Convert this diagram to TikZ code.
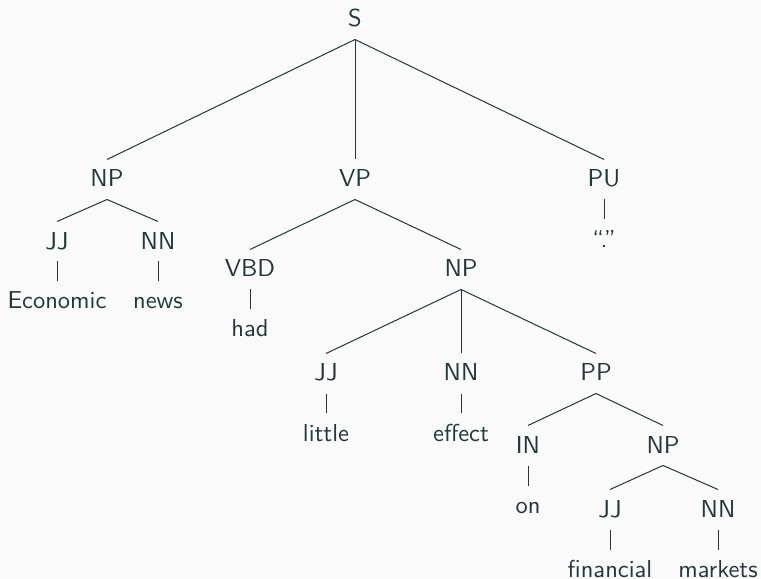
\documentclass[tikz,border=0pt]{standalone}
\usepackage{fontspec}
\definecolor{tealdark}{HTML}{23373B}
\definecolor{bgpaper}{HTML}{FAFAFA}

\begin{document}
\begin{tikzpicture}[x=0.4pt, y=-0.4pt, font=\sffamily\fontsize{9.8}{12}\selectfont]
    \tikzstyle{cat} = [anchor=base, text height=7.8pt, text depth=1.8pt, inner sep=3pt, text=tealdark]
    \tikzstyle{edge} = [draw=tealdark, line width=0.4pt]

    \fill[bgpaper] (0,0) rectangle (761,579);
    \useasboundingbox (0,0) rectangle (761,579);

    % categories
    \node (s) [cat] at (355,27) {S};
    \node (np) [cat] at (107,187) {NP};
    \node (vp) [cat] at (355,187) {VP};
    \node (pu) [cat] at (604,187) {PU};
    \node (jj) [cat] at (57,249) {JJ};
    \node (nn) [cat] at (158,249) {NN};
    \node (vbd) [cat] at (250,277) {VBD};
    \node (npb) [cat] at (461,277) {NP};
    \node (jjb) [cat] at (326,381) {JJ};
    \node (nnb) [cat] at (461,381) {NN};
    \node (pp) [cat] at (596,381) {PP};
    \node (prep) [cat] at (528,453) {IN};
    \node (npc) [cat] at (663,453) {NP};
    \node (jjc) [cat] at (610,517) {JJ};
    \node (nnc) [cat] at (718,517) {NN};

    % words
    \node (economic) [cat] at (57,309) {Economic};
    \node (news) [cat] at (158,309) {news};
    \node (stop) [cat] at (604,247) {“.”};
    \node (had) [cat] at (250,337) {had};
    \node (little) [cat] at (326,441) {little};
    \node (effect) [cat] at (461,441) {effect};
    \node (on) [cat] at (528,513) {on};
    \node (financial) [cat] at (610,577) {financial};
    \node (markets) [cat] at (718,577) {markets};

    \draw [edge] (s.south) -- (np.north);
    \draw [edge] (s.south) -- (vp.north);
    \draw [edge] (s.south) -- (pu.north);
    \draw [edge] (np.south) -- (jj.north);
    \draw [edge] (np.south) -- (nn.north);
    \draw [edge] (vp.south) -- (vbd.north);
    \draw [edge] (vp.south) -- (npb.north);
    \draw [edge] (npb.south) -- (jjb.north);
    \draw [edge] (npb.south) -- (nnb.north);
    \draw [edge] (npb.south) -- (pp.north);
    \draw [edge] (pp.south) -- (prep.north);
    \draw [edge] (pp.south) -- (npc.north);
    \draw [edge] (npc.south) -- (jjc.north);
    \draw [edge] (npc.south) -- (nnc.north);

    % lexical edges
    \draw [edge] (jj.south) -- (economic.north);
    \draw [edge] (nn.south) -- (news.north);
    \draw [edge] (pu.south) -- (stop.north);
    \draw [edge] (vbd.south) -- (had.north);
    \draw [edge] (jjb.south) -- (little.north);
    \draw [edge] (nnb.south) -- (effect.north);
    \draw [edge] (prep.south) -- (on.north);
    \draw [edge] (jjc.south) -- (financial.north);
    \draw [edge] (nnc.south) -- (markets.north);
\end{tikzpicture}
\end{document}
